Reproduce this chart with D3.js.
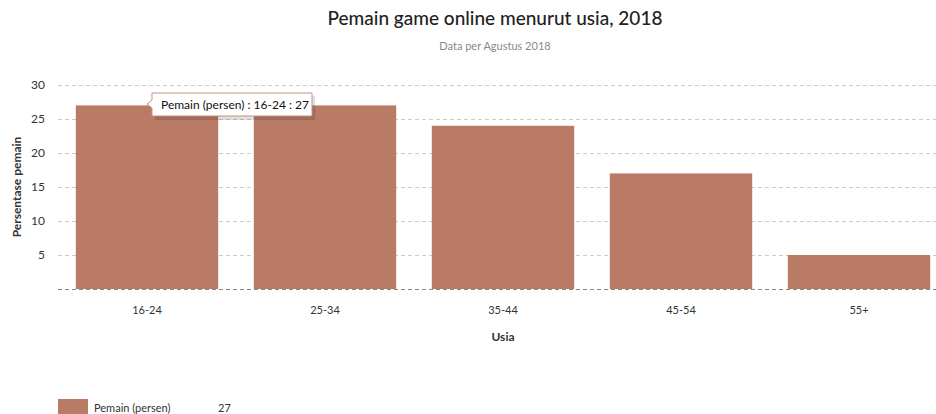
<!DOCTYPE html>
<html>
<head>
<meta charset="utf-8">
<script src="https://cdn.jsdelivr.net/npm/d3@7"></script>
<style>
  body { margin: 0; background: #fff; font-family: Lato, "Open Sans", sans-serif; }
  svg { display: block; }
</style>
</head>
<body>
<div id="chart"></div>
<script>
// Chart data
const categories = ["16-24", "25-34", "35-44", "45-54", "55+"];
const values = [27, 27, 24, 17, 5];
const yTicks = [5, 10, 15, 20, 25, 30];
const seriesName = "Pemain (persen)";

const width = 936, height = 414;
const barColor = "#b97a66";

const svg = d3.select("#chart").append("svg")
    .attr("width", width)
    .attr("height", height);

// Title + subtitle
svg.append("text")
    .attr("x", 495).attr("y", 25)
    .attr("text-anchor", "middle")
    .attr("font-size", "19px")
    .attr("font-weight", "500")
    .attr("fill", "#222")
    .text("Pemain game online menurut usia, 2018");
svg.append("text")
    .attr("x", 495).attr("y", 50)
    .attr("text-anchor", "middle")
    .attr("font-size", "11px")
    .attr("fill", "#888")
    .text("Data per Agustus 2018");

// Scales
const x = d3.scaleBand()
    .domain(categories)
    .range([58, 948])
    .paddingInner(0.2)
    .paddingOuter(0.1);

const y = d3.scaleLinear()
    .domain([0, 30])
    .range([289, 85]);

// Grid lines
svg.append("g")
    .selectAll("line")
    .data(yTicks)
    .join("line")
    .attr("x1", 58).attr("x2", width)
    .attr("y1", d => y(d) + 0.5).attr("y2", d => y(d) + 0.5)
    .attr("stroke", "#ccc")
    .attr("stroke-dasharray", "4,3");

// Y tick labels
svg.append("g")
    .selectAll("text")
    .data(yTicks)
    .join("text")
    .attr("x", 45).attr("y", d => y(d) + 4)
    .attr("text-anchor", "end")
    .attr("font-size", "12px")
    .attr("fill", "#333")
    .text(d => d);

// Bars
svg.append("g")
    .selectAll("rect")
    .data(values)
    .join("rect")
    .attr("x", (d, i) => x(categories[i]))
    .attr("y", d => y(d))
    .attr("width", x.bandwidth())
    .attr("height", d => y(0) - y(d))
    .attr("fill", barColor);

// zero line over bars (dashed)
svg.append("line")
    .attr("x1", 58).attr("x2", width)
    .attr("y1", y(0) + 0.5).attr("y2", y(0) + 0.5)
    .attr("stroke", "#888")
    .attr("stroke-dasharray", "4,3");

// X tick labels
svg.append("g")
    .selectAll("text")
    .data(categories)
    .join("text")
    .attr("x", d => x(d) + x.bandwidth() / 2)
    .attr("y", 314)
    .attr("text-anchor", "middle")
    .attr("font-size", "11px")
    .attr("fill", "#333")
    .text(d => d);

// Axis titles
svg.append("text")
    .attr("x", 503).attr("y", 341)
    .attr("text-anchor", "middle")
    .attr("font-size", "12px")
    .attr("font-weight", "bold")
    .attr("fill", "#333")
    .text("Usia");
svg.append("text")
    .attr("transform", "translate(21,187) rotate(-90)")
    .attr("text-anchor", "middle")
    .attr("font-size", "12px")
    .attr("font-weight", "bold")
    .attr("fill", "#333")
    .text("Persentase pemain");

// Tooltip on first bar
const tip = svg.append("g").attr("transform", "translate(152,93)");
tip.append("path")
    .attr("d", "M3,3 H163 V27 H3 V15 L-1,11 L3,7 Z")
    .attr("fill", "rgba(0,0,0,0.12)");
tip.append("path")
    .attr("d", "M0,0 H160 V23 H0 V15 L-5,11 L0,7 Z")
    .attr("fill", "#fff")
    .attr("stroke", "#c9907e")
    .attr("stroke-width", 1);
tip.append("text")
    .attr("x", 9).attr("y", 16)
    .attr("font-size", "12px")
    .attr("fill", "#111")
    .text(`${seriesName} : ${categories[0]} : ${values[0]}`);

// Legend
const legend = svg.append("g");
legend.append("rect")
    .attr("x", 58).attr("y", 399)
    .attr("width", 30).attr("height", 16)
    .attr("fill", barColor);
legend.append("text")
    .attr("x", 94).attr("y", 412)
    .attr("font-size", "11px")
    .attr("fill", "#333")
    .text(seriesName);
legend.append("text")
    .attr("x", 218).attr("y", 412)
    .attr("font-size", "11px")
    .attr("fill", "#333")
    .text(values[0]);
</script>
</body>
</html>
